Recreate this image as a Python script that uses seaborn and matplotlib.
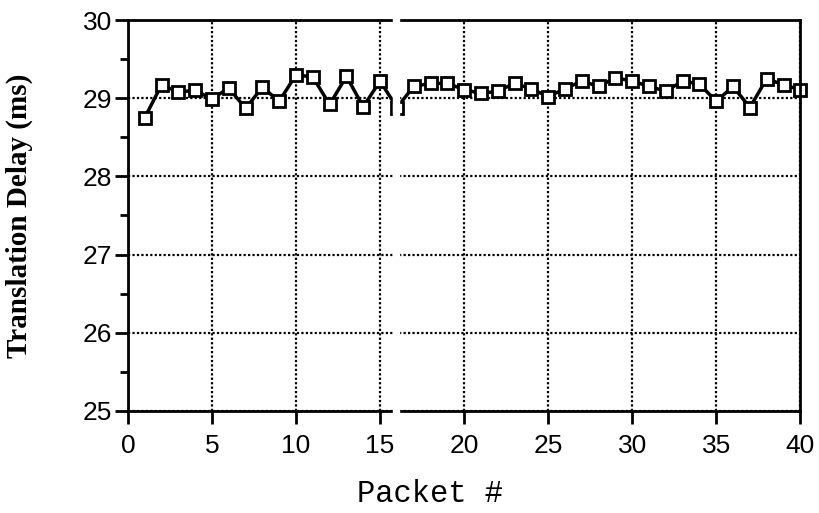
import numpy as np
import pandas as pd
import matplotlib.pyplot as plt
import seaborn as sns
from matplotlib.ticker import MultipleLocator

packets = list(range(1, 41))
delay_ms = [28.75, 29.17, 29.08, 29.10, 28.99, 29.13, 28.87, 29.14, 28.96, 29.30,
            29.27, 28.92, 29.28, 28.89, 29.22, 28.88, 29.15, 29.19, 29.19, 29.11,
            29.06, 29.09, 29.19, 29.12, 29.02, 29.12, 29.22, 29.15, 29.26, 29.22,
            29.15, 29.09, 29.22, 29.18, 28.96, 29.15, 28.88, 29.25, 29.17, 29.11]
x_ticks = [0, 5, 10, 15, 20, 25, 30, 35, 40]
y_ticks = [25, 26, 27, 28, 29, 30]

df = pd.DataFrame({'Packet': packets, 'Delay': delay_ms})

sns.set_theme(style="white")
plt.rcParams['font.family'] = ['Liberation Sans', 'DejaVu Sans']

fig = plt.figure(figsize=(8.2, 5.13), dpi=100)
ax = fig.add_axes([0.156, 0.199, 0.820, 0.762])

sns.lineplot(x='Packet', y='Delay', data=df, ax=ax, color='black', linewidth=2.5,
             marker='s', markersize=8.5, markerfacecolor='white',
             markeredgecolor='black', markeredgewidth=2, clip_on=False)

ax.set_xlim(0, 40)
ax.set_ylim(25, 30)
ax.set_xticks(x_ticks)
ax.set_yticks(y_ticks)
ax.yaxis.set_minor_locator(MultipleLocator(0.5))
ax.grid(True, which='major', color='black', linestyle=(0, (1, 1)), linewidth=1.6)
ax.set_axisbelow(True)

for s in ax.spines.values():
    s.set_color('black')
    s.set_linewidth(2)

ax.tick_params(axis='both', which='major', direction='out', length=9.5, width=2,
               color='black', labelsize=19, labelcolor='black', left=True, bottom=True)
ax.tick_params(axis='y', which='major', pad=2)
ax.tick_params(axis='x', which='major', pad=7)
ax.tick_params(axis='y', which='minor', direction='out', length=6, width=2,
               color='black', left=True)

# scan artifact: white vertical stripe through the plot
ax.axvspan(15.75, 16.1, color='white', zorder=5, clip_on=False, ymin=-0.02, ymax=1.02)

ax.set_xlabel('Packet #', fontsize=22, family='Liberation Mono', color='black')
ax.xaxis.set_label_coords(0.45, -0.175)
ax.set_ylabel('Translation Delay (ms)', fontsize=21, family='Liberation Serif',
              fontweight='bold', color='black')
ax.yaxis.set_label_coords(-0.141, 0.5)

plt.savefig('out.png', dpi=100)
